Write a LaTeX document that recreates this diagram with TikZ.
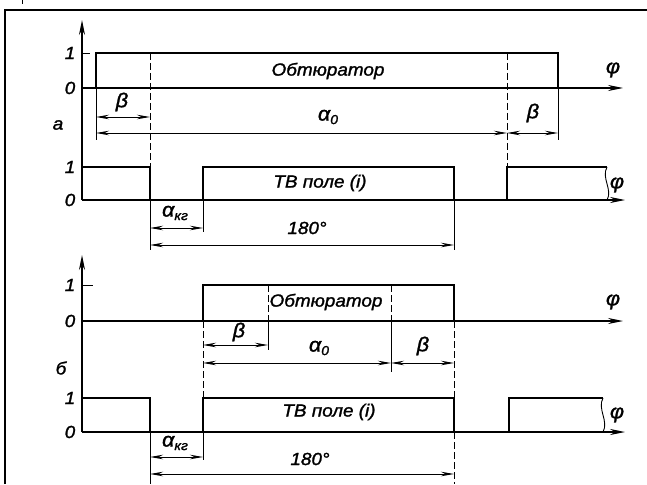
\documentclass[tikz,border=0pt]{standalone}
\usepackage{fontspec}
\setmainfont{Liberation Sans}
\newfontfamily\gostfont[FakeStretch=1.08, FakeBold=1.5]{Liberation Sans}
\usetikzlibrary{arrows.meta}
\newcommand{\lowidx}[1]{\raisebox{-3.5pt}{\fontsize{13}{13}\selectfont #1}}

\begin{document}
\begin{tikzpicture}
[x=1pt, y=-1pt,
signal/.style ={line width=2.4pt, line join=miter},
axis/.style ={line width=1.3pt, -{Stealth[length=15pt,width=6pt]}},
dim/.style ={line width=0.9pt, {Stealth[length=13pt,width=4.5pt]}-{Stealth[length=13pt,width=4.5pt]}},
ext/.style ={line width=0.9pt},
guide/.style ={line width=0.9pt, dash pattern=on 7pt off 3pt},
lbl/.style ={font=\gostfont\itshape\fontsize{17.5}{17.5}\selectfont, inner sep=0pt},
greek/.style ={font=\gostfont\itshape\fontsize{20}{20}\selectfont, inner sep=0pt}]

\useasboundingbox (0,0) rectangle (647,484);
% frame
\draw[line width=1.6pt] (5,484) -- (5,10) -- (647,10);
\draw[line width=1pt] (22,0) -- (22,4);

% ---- a ----
\draw[axis] (82,200) -- (82,20);
\draw[axis] (82,88) -- (623,88);
\draw[axis] (82,200) -- (625,200);
\draw[ext] (82,53) -- (90,53);
% obturator
\draw[signal] (96,88) -- (96,53) -- (558,53) -- (558,88);
% TV field
\draw[signal] (82,167) -- (150,167) -- (150,200);
\draw[signal] (203,200) -- (203,167) -- (454,167) -- (454,200);
\draw[signal] (607,167) -- (507,167) -- (507,200);
\draw[ext] (607,167) .. controls (601,178) and (613,190) .. (607,200);
% guides
\draw[guide] (150,53) -- (150,167);
\draw[guide] (507,53) -- (507,167);
\draw[ext] (96,88) -- (96,140);
\draw[ext] (558,88) -- (558,140);
\draw[ext] (150,200) -- (150,250);
\draw[ext] (203,200) -- (203,232);
\draw[ext] (454,200) -- (454,250);
% dimensions
\draw[dim] (96,117) -- (150,117);
\draw[dim] (96,133) -- (507,133);
\draw[dim] (507,133) -- (558,133);
\draw[dim] (150,228) -- (203,228);
\draw[dim] (150,245) -- (454,245);
% labels
\node[lbl] (a1) at (70,53) {1};
\node[lbl] (a0) at (70,88) {0};
\node[lbl] (ta) at (58,125) {а};
\node[lbl] (obtA) at (328,71) {Обтюратор};
\node[greek] (betaA1) at (122,102) {β};
\node[greek] (alphaA) at (328,117) {α\lowidx{0}};
\node[greek] (betaA2) at (533,113) {β};
\node[greek] (phiA1) at (613,70) {φ};
\node[lbl] (tv1) at (70,167) {1};
\node[lbl] (tv0) at (70,200) {0};
\node[lbl] (tvA) at (320,183) {ТВ поле (i)};
\node[greek] (phiA2) at (617,185) {φ};
\node[greek] (akgA) at (175,213) {α\lowidx{кг}};
\node[lbl] (degA) at (307,228) {180°};

% ---- b ----
\draw[axis] (82,432) -- (82,255);
\draw[axis] (82,321) -- (623,321);
\draw[axis] (82,432) -- (625,432);
\draw[ext] (82,285) -- (93,285);
% obturator
\draw[signal] (203,321) -- (203,285) -- (454,285) -- (454,321);
% TV field
\draw[signal] (82,398) -- (150,398) -- (150,432);
\draw[signal] (203,432) -- (203,398) -- (454,398) -- (454,432);
\draw[signal] (603,398) -- (509,398) -- (509,432);
\draw[ext] (603,398) .. controls (597,409) and (609,421) .. (603,432);
% guides
\draw[guide] (268,285) -- (268,321);
\draw[guide] (391,285) -- (391,321);
\draw[guide] (203,321) -- (203,398);
\draw[guide] (454,321) -- (454,398);
\draw[guide] (454,432) -- (454,484);
\draw[ext] (268,321) -- (268,350);
\draw[ext] (391,321) -- (391,372);
\draw[ext] (150,432) -- (150,484);
\draw[ext] (203,432) -- (203,460);
% dimensions
\draw[dim] (203,345) -- (268,345);
\draw[dim] (203,363) -- (391,363);
\draw[dim] (391,363) -- (454,363);
\draw[dim] (150,457) -- (203,457);
\draw[dim] (150,474) -- (454,474);
% labels
\node[lbl] (b1) at (70,285) {1};
\node[lbl] (b0) at (70,321) {0};
\node[lbl] (tb) at (61,368) {б};
\node[lbl] (obtB) at (326,302) {Обтюратор};
\node[greek] (betaB1) at (239,332) {β};
\node[greek] (alphaB) at (319,348) {α\lowidx{0}};
\node[greek] (betaB2) at (423,346) {β};
\node[greek] (phiB1) at (613,302) {φ};
\node[lbl] (tvb1) at (70,398) {1};
\node[lbl] (tvb0) at (70,432) {0};
\node[lbl] (tvB) at (329,412) {ТВ поле (i)};
\node[greek] (phiB2) at (617,415) {φ};
\node[greek] (akgB) at (175,443) {α\lowidx{кг}};
\node[lbl] (degB) at (310,459) {180°};
\end{tikzpicture}
\end{document}
